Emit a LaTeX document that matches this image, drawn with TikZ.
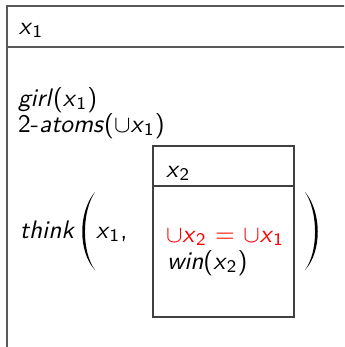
\documentclass[tikz,border=0pt]{standalone}
\newcommand{\vx}[1]{\textsl{x}\textsubscript{#1}}
\tikzset{
  drsline/.style={draw=black!75, line width=0.45pt},
  outerline/.style={draw=black!65, line width=0.6pt},
  txt/.style={anchor=base west, inner sep=0pt, outer sep=0pt, font=\sffamily\fontsize{9.5}{11}\selectfont},
  paren/.style={fill=black, draw=none},
}
\begin{document}
\begin{tikzpicture}[x=0.375pt, y=-0.375pt]
\useasboundingbox (0,0) rectangle (344,347);
\begin{scope}
\clip (0,0) rectangle (344,347);
\draw[outerline] (7,6) rectangle (400,420);
\draw[outerline] (7,47) -- (400,47);
\end{scope}
\node[txt] (h1) at (19,34) {\vx{1}};
\node[txt] (girl) at (18,106) {\textsl{girl}(\vx{1})};
\node[txt] (atoms) at (18,132) {2-\textsl{atoms}($\cup$\vx{1})};
\node[txt] (think) at (20,238) {\textsl{think}};
\fill[paren] (95,192) .. controls (78,212) and (78,252) .. (95,270)
  .. controls (81.6,252) and (81.6,212) .. (95,192) -- cycle;
\node[txt] (x1c) at (96,238) {\vx{1},};
\draw[drsline] (153,146) rectangle (294,317);
\draw[drsline] (153,186) -- (294,186);
\node[txt] (h2) at (166,177) {\vx{2}};
\node[txt, text=red] (eq) at (166,242) {$\cup$\vx{2} = $\cup$\vx{1}};
\node[txt] (win) at (167,269) {\textsl{win}(\vx{2})};
\fill[paren] (305,192) .. controls (322,212) and (322,252) .. (305,270)
  .. controls (318.4,252) and (318.4,212) .. (305,192) -- cycle;
\end{tikzpicture}
\end{document}
